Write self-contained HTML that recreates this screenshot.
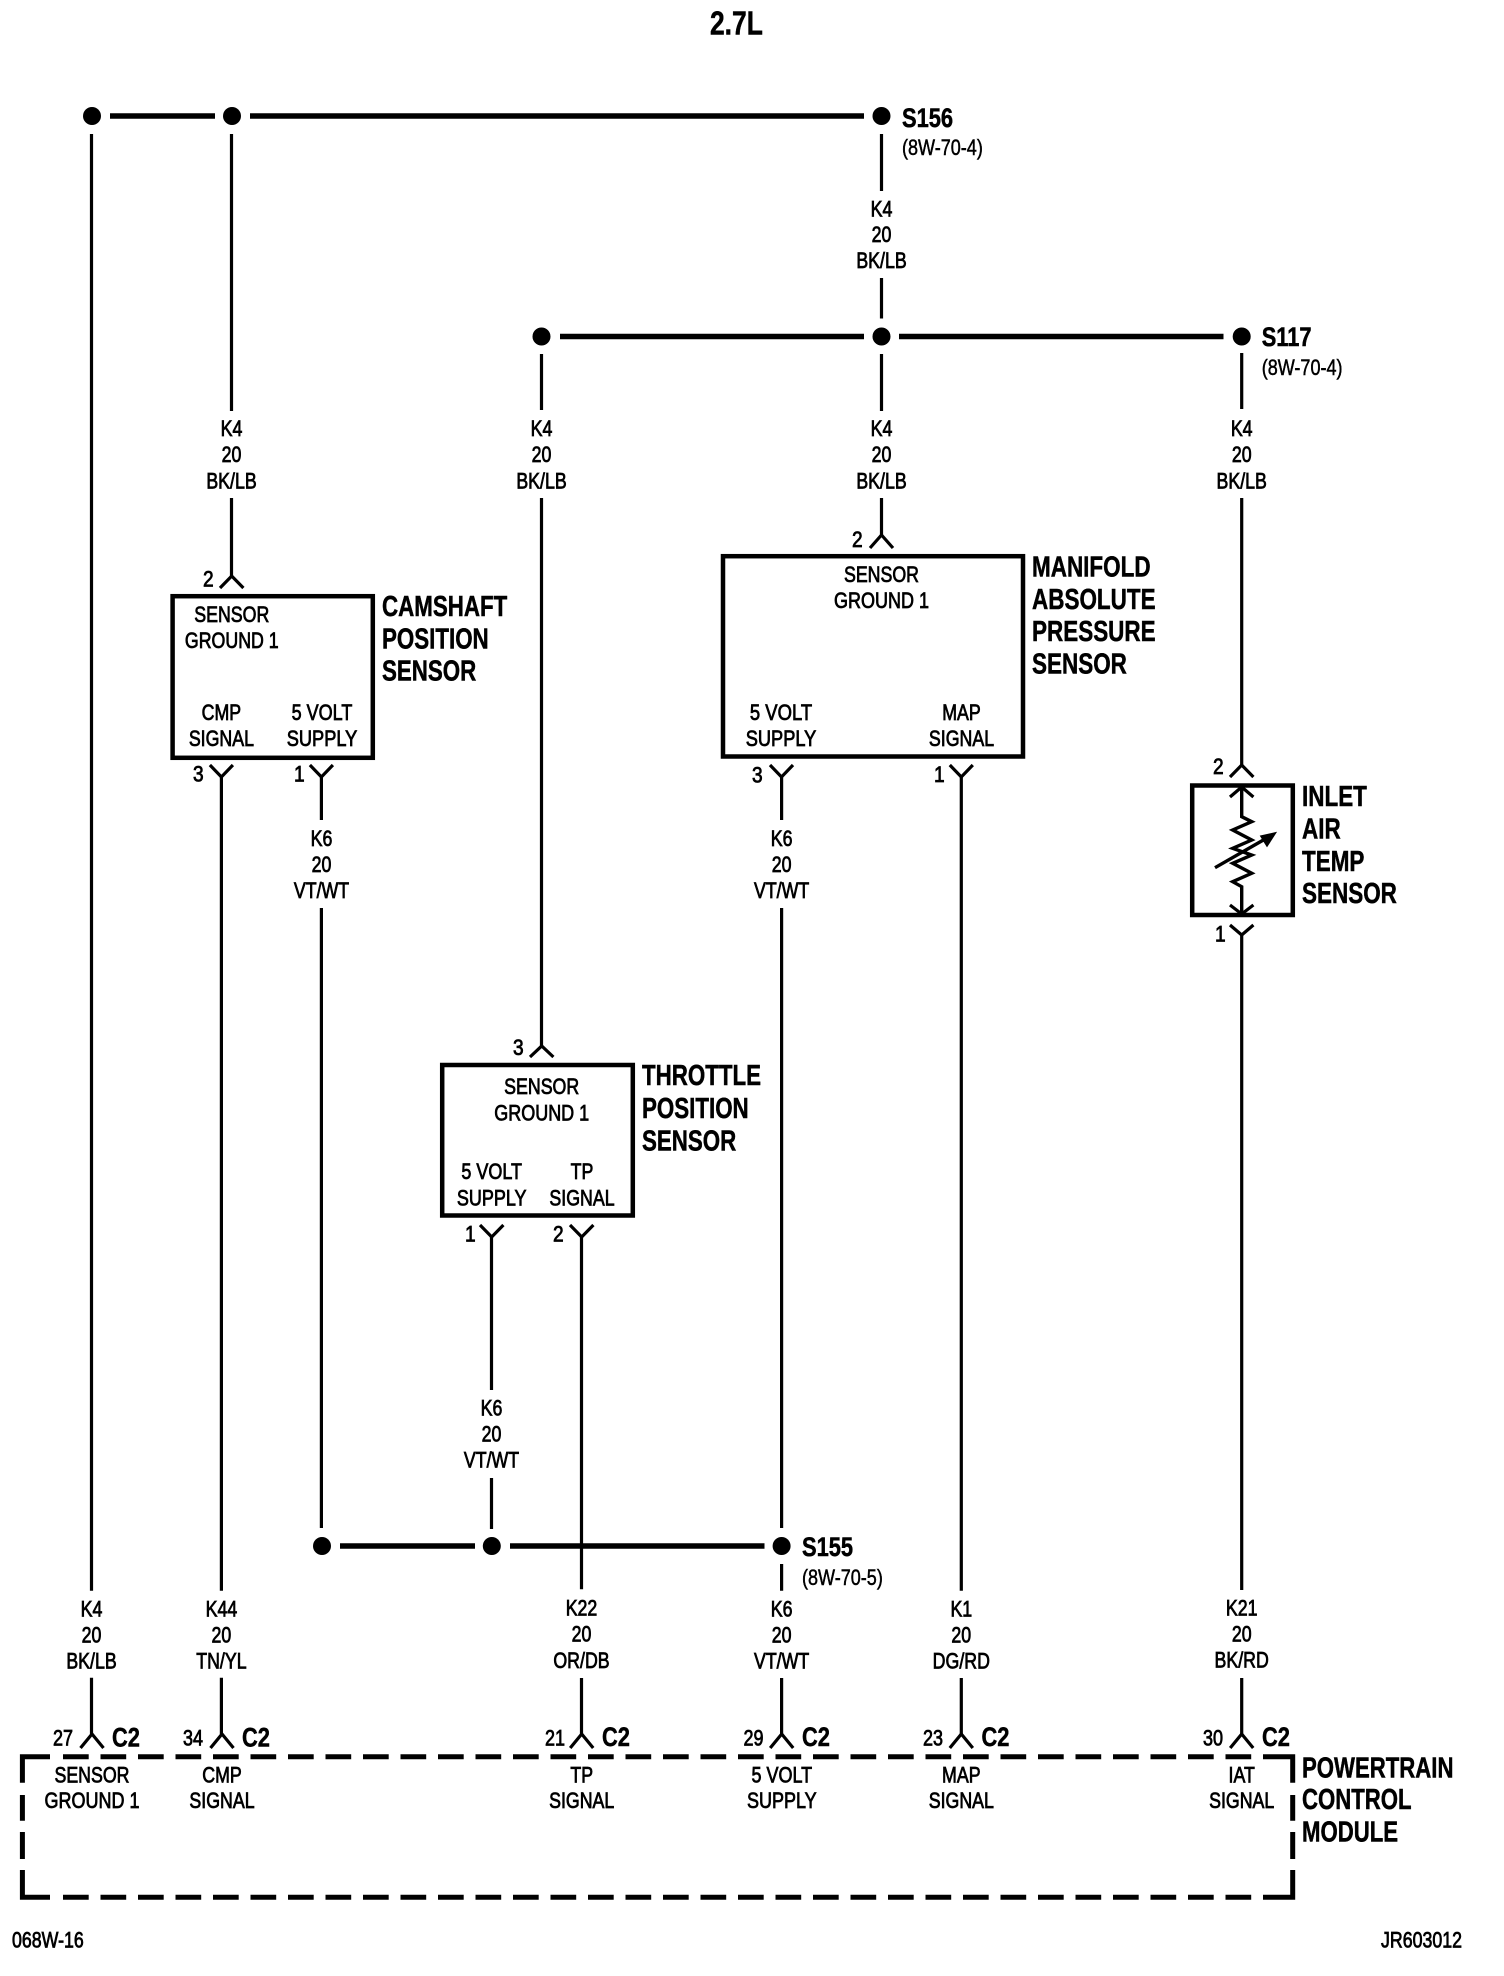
<!DOCTYPE html>
<html lang="en">
<head>
<meta charset="utf-8">
<title>2.7L wiring diagram</title>
<style>
html,body{margin:0;padding:0;background:#fff}
svg{display:block}
text{font-family:"Liberation Sans",sans-serif;fill:#000}
.r{font-size:22.5px;stroke:#000;stroke-width:.8px}
.c{font-size:22.5px;stroke:#000;stroke-width:.8px;text-anchor:middle}
.b{font-size:29px;font-weight:bold;stroke:#000;stroke-width:.5px}
.s{font-size:27px;font-weight:bold;stroke:#000;stroke-width:.5px}
.p{font-size:22px;stroke:#000;stroke-width:.5px}
.t{font-size:33px;font-weight:bold;stroke:#000;stroke-width:.5px}
</style>
</head>
<body>
<svg xmlns="http://www.w3.org/2000/svg" width="1504" height="1976" viewBox="0 0 1504 1976">
<rect width="1504" height="1976" fill="#fff"/>

<!-- thick splice bars -->
<g stroke="#000" stroke-width="5.5" fill="none">
<path d="M110 116H215M250 116H864"/>
<path d="M560 336.5H864M899 336.5H1223.5"/>
<path d="M340 1546H475M510 1546H764.5"/>
</g>
<!-- splice dots -->
<g fill="#000">
<circle cx="92" cy="116" r="9"/><circle cx="232" cy="116" r="9"/><circle cx="881.5" cy="116" r="9"/>
<circle cx="541.5" cy="336.5" r="9"/><circle cx="881.5" cy="336.5" r="9"/><circle cx="1241.7" cy="336.5" r="9"/>
<circle cx="322" cy="1546" r="9"/><circle cx="491.8" cy="1546" r="9"/><circle cx="781.6" cy="1546" r="9"/>
</g>

<!-- wires -->
<g stroke="#000" stroke-width="3.2" fill="none">
<path d="M91.5 134V1590.7M91.5 1677.7V1734"/>
<path d="M231.5 134V411M231.5 498V576"/>
<path d="M541.5 354V410M541.5 498V1046"/>
<path d="M881.5 134V191M881.5 278V318.5M881.5 354V411M881.5 498V535"/>
<path d="M1241.7 353V409M1241.7 498V766M1241.7 935V1590M1241.7 1678V1734"/>
<path d="M321.4 777V820M321.4 908V1528"/>
<path d="M221.4 777V1590.7M221.4 1677.7V1734"/>
<path d="M491.5 1237V1390M491.5 1478V1529"/>
<path d="M581.5 1237V1589.3M581.5 1678V1734"/>
<path d="M781.6 777V820M781.6 908V1528M781.6 1564V1590.7M781.6 1678V1734"/>
<path d="M961.3 777V1590.7M961.3 1678V1734"/>
</g>

<!-- connector arrows -->
<g stroke="#000" stroke-width="3.2" fill="none">
<path d="M220 588L231.7 576L243.4 588"/>
<path d="M870 548L881.5 535L893 548"/>
<path d="M530 1057L541.7 1046L553.4 1057"/>
<path d="M1230 777L1241.7 765L1253.4 777"/>
<path d="M1230 797L1241.7 787L1253.4 797"/>
<path d="M80.5 1748L92 1734L103.5 1748"/>
<path d="M210.5 1748L222 1734L233.5 1748"/>
<path d="M570.2 1748L581.7 1734L593.2 1748"/>
<path d="M770.2 1748L781.7 1734L793.2 1748"/>
<path d="M949.8 1748L961.3 1734L972.8 1748"/>
<path d="M1230.2 1748L1241.7 1734L1253.2 1748"/>
<path d="M209.9 765L221.4 777L232.9 765"/>
<path d="M309.9 765L321.4 777L332.9 765"/>
<path d="M770 765L781.5 777L793 765"/>
<path d="M949.8 765L961.3 777L972.8 765"/>
<path d="M480 1225L491.7 1237L503.4 1225"/>
<path d="M570 1225L581.7 1237L593.4 1225"/>
<path d="M1230 925L1241.7 935L1253.4 925"/>
<path d="M1230 905L1241.7 914L1253.4 905"/>
</g>

<!-- sensor boxes -->
<g stroke="#000" stroke-width="4.5" fill="none">
<rect x="172.6" y="596.2" width="200.2" height="161.6"/>
<rect x="723" y="556.2" width="300" height="200.3"/>
<rect x="442.2" y="1065" width="190.6" height="150.5"/>
<rect x="1192.2" y="785.5" width="100.6" height="129.5"/>
</g>

<!-- resistor -->
<g stroke="#000" stroke-width="3.4" fill="none">
<path d="M1241.7 787V816.7L1251.7 821.7L1232.7 830L1251.7 840L1232.7 848.3L1251.7 855L1232.7 863.3L1251.7 873.3L1232.7 881.7L1241.7 886.7V914"/>
<path d="M1215 867.7L1266 838.5"/>
</g>
<path d="M1276 832.5L1260.5 836L1267 846.5Z" fill="#000" stroke="#000"/>

<!-- dashed module outline -->
<g stroke="#000" stroke-width="5" fill="none">
<path d="M63 1756.7H1251.2M63 1897.3H1251.2" stroke-dasharray="25.7 11.8"/>
<path d="M22.4 1782.7V1756.7H50"/>
<path d="M22.4 1795V1820.7M22.4 1832V1859"/>
<path d="M22.4 1870V1897.3H50"/>
<path d="M1263 1756.7H1292.7V1782.7"/>
<path d="M1292.7 1795V1820.7M1292.7 1832V1859"/>
<path d="M1263 1897.3H1292.7V1870"/>
</g>

<!-- title -->
<text class="t" transform="matrix(.8 0 0 1 710 34.6)">2.7L</text>

<!-- splice labels -->
<text class="s" transform="matrix(.81 0 0 1 902 127)">S156</text>
<text class="p" transform="matrix(.82 0 0 1 902 155)">(8W-70-4)</text>
<text class="s" transform="matrix(.81 0 0 1 1261.7 346)">S117</text>
<text class="p" transform="matrix(.82 0 0 1 1261.7 375)">(8W-70-4)</text>
<text class="s" transform="matrix(.81 0 0 1 802 1556)">S155</text>
<text class="p" transform="matrix(.82 0 0 1 802 1585)">(8W-70-5)</text>

<!-- wire labels -->
<g class="wl">
<text class="c" transform="matrix(.79 0 0 1 881.5 216.5)">K4</text>
<text class="c" transform="matrix(.79 0 0 1 881.5 242.2)">20</text>
<text class="c" transform="matrix(.79 0 0 1 881.5 268.2)">BK/LB</text>

<text class="c" transform="matrix(.79 0 0 1 231.5 436)">K4</text>
<text class="c" transform="matrix(.79 0 0 1 231.5 462)">20</text>
<text class="c" transform="matrix(.79 0 0 1 231.5 488.5)">BK/LB</text>

<text class="c" transform="matrix(.79 0 0 1 541.5 436)">K4</text>
<text class="c" transform="matrix(.79 0 0 1 541.5 462)">20</text>
<text class="c" transform="matrix(.79 0 0 1 541.5 488.5)">BK/LB</text>

<text class="c" transform="matrix(.79 0 0 1 881.5 436)">K4</text>
<text class="c" transform="matrix(.79 0 0 1 881.5 462)">20</text>
<text class="c" transform="matrix(.79 0 0 1 881.5 488.5)">BK/LB</text>

<text class="c" transform="matrix(.79 0 0 1 1241.7 436)">K4</text>
<text class="c" transform="matrix(.79 0 0 1 1241.7 462)">20</text>
<text class="c" transform="matrix(.79 0 0 1 1241.7 488.5)">BK/LB</text>

<text class="c" transform="matrix(.79 0 0 1 321.5 846)">K6</text>
<text class="c" transform="matrix(.79 0 0 1 321.5 872)">20</text>
<text class="c" transform="matrix(.79 0 0 1 321.5 898)">VT/WT</text>

<text class="c" transform="matrix(.79 0 0 1 781.6 846)">K6</text>
<text class="c" transform="matrix(.79 0 0 1 781.6 872)">20</text>
<text class="c" transform="matrix(.79 0 0 1 781.6 898)">VT/WT</text>

<text class="c" transform="matrix(.79 0 0 1 491.5 1415.7)">K6</text>
<text class="c" transform="matrix(.79 0 0 1 491.5 1441.4)">20</text>
<text class="c" transform="matrix(.79 0 0 1 491.5 1467.4)">VT/WT</text>

<text class="c" transform="matrix(.79 0 0 1 91.5 1616.7)">K4</text>
<text class="c" transform="matrix(.79 0 0 1 91.5 1642.7)">20</text>
<text class="c" transform="matrix(.79 0 0 1 91.5 1668.7)">BK/LB</text>

<text class="c" transform="matrix(.79 0 0 1 221.4 1616.7)">K44</text>
<text class="c" transform="matrix(.79 0 0 1 221.4 1642.7)">20</text>
<text class="c" transform="matrix(.79 0 0 1 221.4 1668.7)">TN/YL</text>

<text class="c" transform="matrix(.79 0 0 1 581.5 1615.7)">K22</text>
<text class="c" transform="matrix(.79 0 0 1 581.5 1641.7)">20</text>
<text class="c" transform="matrix(.79 0 0 1 581.5 1668)">OR/DB</text>

<text class="c" transform="matrix(.79 0 0 1 781.6 1616.7)">K6</text>
<text class="c" transform="matrix(.79 0 0 1 781.6 1642.7)">20</text>
<text class="c" transform="matrix(.79 0 0 1 781.6 1668.7)">VT/WT</text>

<text class="c" transform="matrix(.79 0 0 1 961.3 1616.7)">K1</text>
<text class="c" transform="matrix(.79 0 0 1 961.3 1642.7)">20</text>
<text class="c" transform="matrix(.79 0 0 1 961.3 1668.7)">DG/RD</text>

<text class="c" transform="matrix(.79 0 0 1 1241.7 1615.7)">K21</text>
<text class="c" transform="matrix(.79 0 0 1 1241.7 1641.7)">20</text>
<text class="c" transform="matrix(.79 0 0 1 1241.7 1667.7)">BK/RD</text>
</g>

<!-- pin numbers -->
<text class="r" transform="matrix(.85 0 0 1 203 586.7)">2</text>
<text class="r" transform="matrix(.85 0 0 1 852 547)">2</text>
<text class="r" transform="matrix(.85 0 0 1 513 1055)">3</text>
<text class="r" transform="matrix(.85 0 0 1 1213 774)">2</text>
<text class="r" transform="matrix(.85 0 0 1 193 781.7)">3</text>
<text class="r" transform="matrix(.85 0 0 1 294 781.7)">1</text>
<text class="r" transform="matrix(.85 0 0 1 752 782.7)">3</text>
<text class="r" transform="matrix(.85 0 0 1 934 782)">1</text>
<text class="r" transform="matrix(.85 0 0 1 465 1241.7)">1</text>
<text class="r" transform="matrix(.85 0 0 1 553 1241.7)">2</text>
<text class="r" transform="matrix(.85 0 0 1 1215 941.7)">1</text>
<text class="r" transform="matrix(.8 0 0 1 53 1745.7)">27</text>
<text class="r" transform="matrix(.8 0 0 1 183 1745.7)">34</text>
<text class="r" transform="matrix(.8 0 0 1 545 1745.7)">21</text>
<text class="r" transform="matrix(.8 0 0 1 743.5 1745.7)">29</text>
<text class="r" transform="matrix(.8 0 0 1 923 1745.7)">23</text>
<text class="r" transform="matrix(.8 0 0 1 1203 1745.7)">30</text>

<!-- C2 labels -->
<text class="s" transform="matrix(.81 0 0 1 112 1746.5)">C2</text>
<text class="s" transform="matrix(.81 0 0 1 242 1746.5)">C2</text>
<text class="s" transform="matrix(.81 0 0 1 602 1746)">C2</text>
<text class="s" transform="matrix(.81 0 0 1 802 1746)">C2</text>
<text class="s" transform="matrix(.81 0 0 1 981.5 1746)">C2</text>
<text class="s" transform="matrix(.81 0 0 1 1262 1746)">C2</text>

<!-- camshaft box text -->
<text class="c" transform="matrix(.79 0 0 1 231.8 622.2)">SENSOR</text>
<text class="c" transform="matrix(.79 0 0 1 231.8 648)">GROUND 1</text>
<text class="c" transform="matrix(.79 0 0 1 221.4 720)">CMP</text>
<text class="c" transform="matrix(.79 0 0 1 221.4 746)">SIGNAL</text>
<text class="c" transform="matrix(.8 0 0 1 322 720)">5 VOLT</text>
<text class="c" transform="matrix(.81 0 0 1 322 746)">SUPPLY</text>
<text class="b" transform="matrix(.77 0 0 1 382 616)">CAMSHAFT</text>
<text class="b" transform="matrix(.77 0 0 1 382 648.3)">POSITION</text>
<text class="b" transform="matrix(.77 0 0 1 382 680.7)">SENSOR</text>

<!-- MAP box text -->
<text class="c" transform="matrix(.79 0 0 1 881.5 582)">SENSOR</text>
<text class="c" transform="matrix(.8 0 0 1 881.5 608)">GROUND 1</text>
<text class="c" transform="matrix(.82 0 0 1 781 720.2)">5 VOLT</text>
<text class="c" transform="matrix(.81 0 0 1 781 746.2)">SUPPLY</text>
<text class="c" transform="matrix(.79 0 0 1 961.5 720.2)">MAP</text>
<text class="c" transform="matrix(.79 0 0 1 961.5 746.2)">SIGNAL</text>
<text class="b" transform="matrix(.775 0 0 1 1032 576.5)">MANIFOLD</text>
<text class="b" transform="matrix(.775 0 0 1 1032 609)">ABSOLUTE</text>
<text class="b" transform="matrix(.775 0 0 1 1032 641.2)">PRESSURE</text>
<text class="b" transform="matrix(.775 0 0 1 1032 673.5)">SENSOR</text>

<!-- throttle box text -->
<text class="c" transform="matrix(.79 0 0 1 541.7 1094)">SENSOR</text>
<text class="c" transform="matrix(.8 0 0 1 541.7 1120.4)">GROUND 1</text>
<text class="c" transform="matrix(.8 0 0 1 491.7 1179)">5 VOLT</text>
<text class="c" transform="matrix(.8 0 0 1 491.7 1205.4)">SUPPLY</text>
<text class="c" transform="matrix(.79 0 0 1 582 1179)">TP</text>
<text class="c" transform="matrix(.79 0 0 1 582 1205.4)">SIGNAL</text>
<text class="b" transform="matrix(.77 0 0 1 642 1085)">THROTTLE</text>
<text class="b" transform="matrix(.77 0 0 1 642 1118)">POSITION</text>
<text class="b" transform="matrix(.77 0 0 1 642 1150.7)">SENSOR</text>

<!-- inlet air temp text -->
<text class="b" transform="matrix(.775 0 0 1 1302 806)">INLET</text>
<text class="b" transform="matrix(.775 0 0 1 1302 838.5)">AIR</text>
<text class="b" transform="matrix(.775 0 0 1 1302 871)">TEMP</text>
<text class="b" transform="matrix(.775 0 0 1 1302 903)">SENSOR</text>

<!-- PCM text -->
<text class="c" transform="matrix(.79 0 0 1 92 1782.4)">SENSOR</text>
<text class="c" transform="matrix(.8 0 0 1 92 1808.2)">GROUND 1</text>
<text class="c" transform="matrix(.79 0 0 1 222 1782.4)">CMP</text>
<text class="c" transform="matrix(.79 0 0 1 222 1808.2)">SIGNAL</text>
<text class="c" transform="matrix(.79 0 0 1 581.7 1782.4)">TP</text>
<text class="c" transform="matrix(.79 0 0 1 581.7 1808.2)">SIGNAL</text>
<text class="c" transform="matrix(.8 0 0 1 781.8 1782.4)">5 VOLT</text>
<text class="c" transform="matrix(.8 0 0 1 781.8 1808.2)">SUPPLY</text>
<text class="c" transform="matrix(.79 0 0 1 961.3 1782.4)">MAP</text>
<text class="c" transform="matrix(.79 0 0 1 961.3 1808.2)">SIGNAL</text>
<text class="c" transform="matrix(.79 0 0 1 1241.7 1782.4)">IAT</text>
<text class="c" transform="matrix(.79 0 0 1 1241.7 1808.2)">SIGNAL</text>
<text class="b" transform="matrix(.765 0 0 1 1302 1777.3)">POWERTRAIN</text>
<text class="b" transform="matrix(.765 0 0 1 1302 1809)">CONTROL</text>
<text class="b" transform="matrix(.765 0 0 1 1302 1841.7)">MODULE</text>

<!-- footer -->
<text class="r" transform="matrix(.79 0 0 1 12 1947.3)">068W-16</text>
<text class="r" transform="matrix(.79 0 0 1 1381 1947.3)">JR603012</text>
</svg>
</body>
</html>
